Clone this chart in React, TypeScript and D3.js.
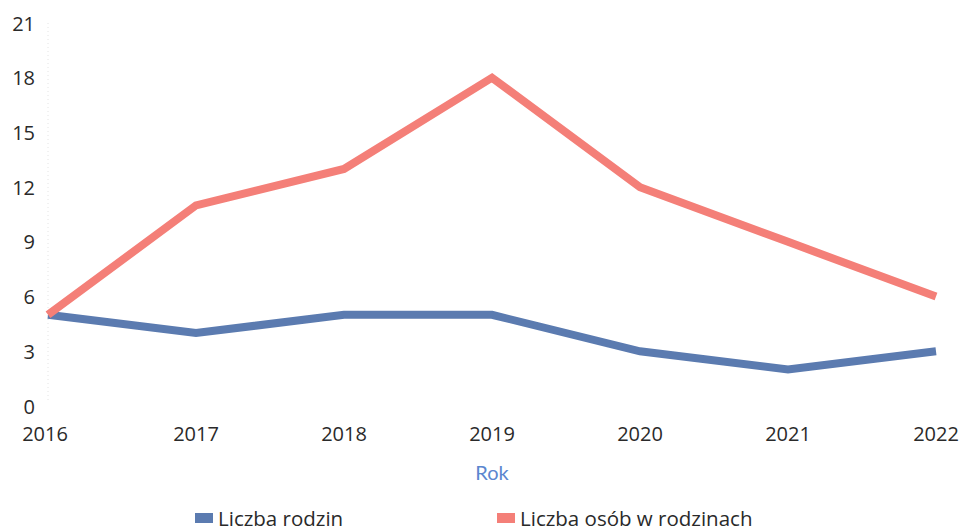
import { useEffect, useRef } from "react";
import * as d3 from "d3";

const years = [2016, 2017, 2018, 2019, 2020, 2021, 2022];
const rodziny = [5, 4, 5, 5, 3, 2, 3];
const osoby = [5, 11, 13, 18, 12, 9, 6];
const yTicks = [0, 3, 6, 9, 12, 15, 18, 21];

const series = [
  { name: "Liczba rodzin", values: rodziny, color: "#5b7bb0" },
  { name: "Liczba osób w rodzinach", values: osoby, color: "#f47f78" },
];

const App = () => {
  const svgRef = useRef<SVGSVGElement | null>(null);
  const width = 962;
  const height = 531;

  useEffect(() => {
    const svg = d3.select(svgRef.current);
    svg.selectAll("*").remove();

    const x = d3.scalePoint<number>().domain(years).range([48, 936]);
    const y = d3.scaleLinear().domain([0, 21]).range([406, 23]);

    // faint dotted gridline at first year
    svg
      .append("line")
      .attr("x1", x(2016)!)
      .attr("x2", x(2016)!)
      .attr("y1", y(21))
      .attr("y2", y(0) - 4)
      .attr("stroke", "#e4e4e4")
      .attr("stroke-dasharray", "1,3");

    svg
      .selectAll("text.ytick")
      .data(yTicks)
      .join("text")
      .attr("class", "ytick")
      .attr("x", 35)
      .attr("y", (d) => y(d))
      .attr("text-anchor", "end")
      .attr("dominant-baseline", "central")
      .attr("font-family", "'Open Sans', sans-serif")
      .attr("font-size", "20px")
      .attr("fill", "#2a2a2a")
      .text((d) => d);

    svg
      .selectAll("text.xtick")
      .data(years)
      .join("text")
      .attr("class", "xtick")
      .attr("x", (d) => x(d)! - (d === 2016 ? 3 : 0))
      .attr("y", 433)
      .attr("text-anchor", "middle")
      .attr("dominant-baseline", "central")
      .attr("font-family", "'Open Sans', sans-serif")
      .attr("font-size", "20px")
      .attr("fill", "#2a2a2a")
      .text((d) => d);

    svg
      .append("text")
      .attr("x", 492)
      .attr("y", 472)
      .attr("text-anchor", "middle")
      .attr("dominant-baseline", "central")
      .attr("font-family", "Lato, sans-serif")
      .attr("font-size", "20px")
      .attr("fill", "#5b86cf")
      .text("Rok");

    const line = d3
      .line<number>()
      .x((_, i) => x(years[i])!)
      .y((d) => y(d));

    series.forEach((s) => {
      svg
        .append("path")
        .datum(s.values)
        .attr("fill", "none")
        .attr("stroke", s.color)
        .attr("stroke-width", 8)
        .attr("stroke-linejoin", "miter")
        .attr("d", line);
    });

    // legend
    const legendX = [195, 497];
    series.forEach((s, i) => {
      svg
        .append("rect")
        .attr("x", legendX[i])
        .attr("y", 513)
        .attr("width", 18)
        .attr("height", 10)
        .attr("fill", s.color);
      svg
        .append("text")
        .attr("x", legendX[i] + 23)
        .attr("y", 518)
        .attr("dominant-baseline", "central")
        .attr("font-family", "'Open Sans', sans-serif")
        .attr("font-size", "20.5px")
        .attr("fill", "#2a2a2a")
        .text(s.name);
    });
  }, []);

  return (
    <svg
      ref={svgRef}
      width={width}
      height={height}
      style={{ position: "absolute", left: 0, top: 0, background: "#fff" }}
    ></svg>
  );
};

export default App;
